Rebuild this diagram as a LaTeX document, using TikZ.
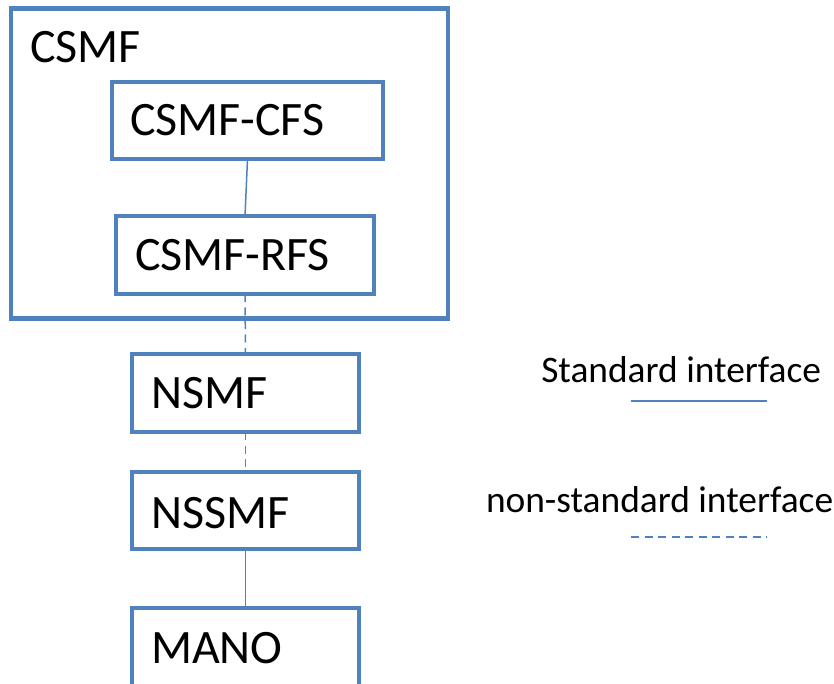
\documentclass[tikz,border=0pt]{standalone}
\usepackage{fontspec}
\setmainfont{Carlito}
\definecolor{boxblue}{HTML}{4F81BD}
\tikzset{
  boxnode/.style={draw=boxblue, line width=4.6pt, rectangle, inner sep=0pt, outer sep=0pt, anchor=north west},
  lbl/.style={inner sep=0pt, outer sep=0pt, anchor=base west, font=\fontsize{48}{52}\selectfont},
  leg/.style={inner sep=0pt, outer sep=0pt, font=\fontsize{37.4}{41}\selectfont},
  stdline/.style={draw=boxblue, line width=1.5pt},
  nonstdline/.style={draw=boxblue, line width=1.5pt, dash pattern=on 8pt off 5.5pt}
}
\begin{document}
\begin{tikzpicture}[x=1pt, y=-1pt]
\useasboundingbox (0,0) rectangle (834,684);
\clip (0,0) rectangle (834,684);
% boxes
\node[boxnode, minimum width=437pt, minimum height=310pt] (csmf) at (11,8.5) {};
\node[boxnode, minimum width=271pt, minimum height=77pt] (cfs) at (112,82) {};
\node[boxnode, minimum width=258pt, minimum height=78pt] (rfs) at (116,216) {};
\node[boxnode, minimum width=227pt, minimum height=78pt] (nsmf) at (132,354) {};
\node[boxnode, minimum width=227pt, minimum height=77pt] (nssmf) at (132,472) {};
\node[boxnode, minimum width=227pt, minimum height=100pt] (mano) at (132,608) {};
% labels
\node[lbl] (tcsmf) at (30,63) {CSMF};
\node[lbl] (tcfs) at (130,136) {CSMF-CFS};
\node[lbl] (trfs) at (135,270) {CSMF-RFS};
\node[lbl] (tnsmf) at (151,408) {NSMF};
\node[lbl] (tnssmf) at (151,528) {NSSMF};
\node[lbl] (tmano) at (151,663) {MANO};
% connectors
\draw[stdline] (cfs.south) -- (rfs.north);
\draw[nonstdline] (rfs.south) -- (nsmf.north);
\draw[nonstdline] (nsmf.south) -- (nssmf.north);
\draw[stdline] (nssmf.south) -- (mano.north);
% legend
\node[leg, anchor=base east] (tstd) at (821,382) {Standard interface};
\node[leg, anchor=base west] (tnonstd) at (486,512) {non-standard interface};
\coordinate (s1) at (631,401);
\coordinate (s2) at (767,401);
\coordinate (n1) at (631,537);
\coordinate (n2) at (767,537);
\draw[stdline] (s1) -- (s2);
\draw[nonstdline] (n1) -- (n2);
\end{tikzpicture}
\end{document}
